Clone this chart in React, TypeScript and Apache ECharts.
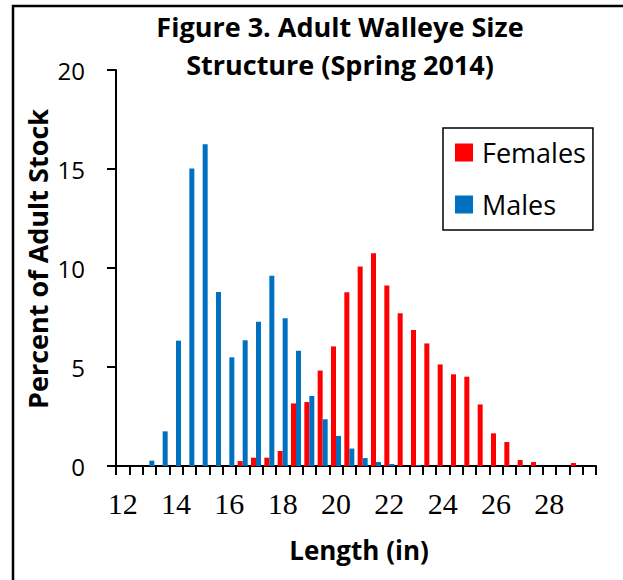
import React, { useEffect, useRef } from 'react';
import * as echarts from 'echarts';

const lengthCategories = [
  '12', '12.5', '13', '13.5', '14', '14.5', '15', '15.5', '16', '16.5',
  '17', '17.5', '18', '18.5', '19', '19.5', '20', '20.5', '21', '21.5',
  '22', '22.5', '23', '23.5', '24', '24.5', '25', '25.5', '26', '26.5',
  '27', '27.5', '28', '28.5', '29', '29.5',
];

const females = [
  0, 0, 0, 0, 0, 0, 0, 0, 0, 0.25,
  0.42, 0.42, 0.76, 3.16, 3.23, 4.82, 6.04, 8.78, 10.07, 10.74,
  9.11, 7.71, 6.87, 6.19, 5.13, 4.63, 4.51, 3.11, 1.65, 1.21,
  0.3, 0.2, 0, 0, 0.15, 0,
];

const males = [
  0, 0, 0.27, 1.75, 6.33, 15.03, 16.25, 8.79, 5.49, 6.35,
  7.29, 9.61, 7.46, 5.82, 3.54, 2.36, 1.52, 0.88, 0.4, 0.2,
  0.1, 0, 0.05, 0, 0, 0, 0, 0, 0, 0,
  0, 0, 0, 0, 0, 0,
];

const seriesNames = ['Females', 'Males'];
const seriesColors = ['#FF0000', '#0070C0'];
const titleLines = ['Figure 3. Adult Walleye Size', 'Structure (Spring 2014)'];
const yAxisTitle = 'Percent of Adult Stock';
const xAxisTitle = 'Length (in)';

const SANS = '"Open Sans", Lato, sans-serif';
const SERIF = '"Liberation Serif", "DejaVu Serif", serif';

export default function App() {
  const ref = useRef<HTMLDivElement>(null);

  useEffect(() => {
    const chart = echarts.init(ref.current!, null, { renderer: 'svg' });
    chart.setOption({
      animation: false,
      backgroundColor: '#ffffff',
      grid: { left: 116, right: 27, top: 70, bottom: 114, containLabel: false },
      legend: {
        orient: 'vertical',
        left: 443,
        top: 128,
        data: seriesNames,
        icon: 'rect',
        itemWidth: 18,
        itemHeight: 18,
        itemGap: 25,
        padding: [11, 7, 12, 12],
        borderColor: '#000',
        borderWidth: 1.5,
        textStyle: {
          fontFamily: SANS,
          fontSize: 27,
          lineHeight: 26,
          color: '#000',
          padding: [0, 0, 0, 4],
        },
      },
      xAxis: {
        type: 'category',
        data: lengthCategories,
        axisLine: { show: true, lineStyle: { color: '#000', width: 2 } },
        axisTick: { show: true, interval: 0, length: 9, alignWithLabel: false, lineStyle: { color: '#000', width: 2 } },
        axisLabel: {
          interval: 3,
          margin: 22,
          fontFamily: SERIF,
          fontSize: 30,
          color: '#000',
        },
        splitLine: { show: false },
      },
      yAxis: {
        type: 'value',
        min: 0,
        max: 20,
        interval: 5,
        axisLine: { show: true, lineStyle: { color: '#000', width: 2 } },
        axisTick: { show: true, length: 9, lineStyle: { color: '#000', width: 2 } },
        axisLabel: {
          margin: 31,
          fontFamily: SANS,
          fontSize: 24,
          color: '#000',
        },
        splitLine: { show: false },
      },
      series: [
        {
          name: seriesNames[0],
          type: 'bar',
          data: females,
          barWidth: 5,
          barGap: '0%',
          itemStyle: { color: seriesColors[0] },
        },
        {
          name: seriesNames[1],
          type: 'bar',
          data: males,
          barWidth: 5,
          barGap: '0%',
          itemStyle: { color: seriesColors[1] },
        },
      ],
      graphic: [
        {
          type: 'rect',
          silent: true,
          shape: { x: 13, y: 6, width: 800, height: 800 },
          style: { fill: 'none', stroke: '#000', lineWidth: 2.5 },
          z: 100,
        },
        {
          type: 'text',
          x: 340,
          y: 26,
          style: {
            text: titleLines[0],
            fontFamily: SANS,
            fontWeight: 'bold',
            fontSize: 27,
            fill: '#000',
            textAlign: 'center',
            textVerticalAlign: 'middle',
          },
        },
        {
          type: 'text',
          x: 340,
          y: 64,
          style: {
            text: titleLines[1],
            fontFamily: SANS,
            fontWeight: 'bold',
            fontSize: 27,
            fill: '#000',
            textAlign: 'center',
            textVerticalAlign: 'middle',
          },
        },
        {
          type: 'text',
          x: 37,
          y: 259,
          rotation: Math.PI / 2,
          style: {
            text: yAxisTitle,
            fontFamily: SANS,
            fontWeight: 'bold',
            fontSize: 27,
            fill: '#000',
            textAlign: 'center',
            textVerticalAlign: 'middle',
          },
        },
        {
          type: 'text',
          x: 359,
          y: 550,
          style: {
            text: xAxisTitle,
            fontFamily: SANS,
            fontWeight: 'bold',
            fontSize: 26,
            fill: '#000',
            textAlign: 'center',
            textVerticalAlign: 'middle',
          },
        },
      ],
    });
    return () => chart.dispose();
  }, []);

  return (
    <div
      ref={ref}
      style={{ position: 'absolute', left: 0, top: 0, width: 623, height: 580 }}
    />
  );
}
